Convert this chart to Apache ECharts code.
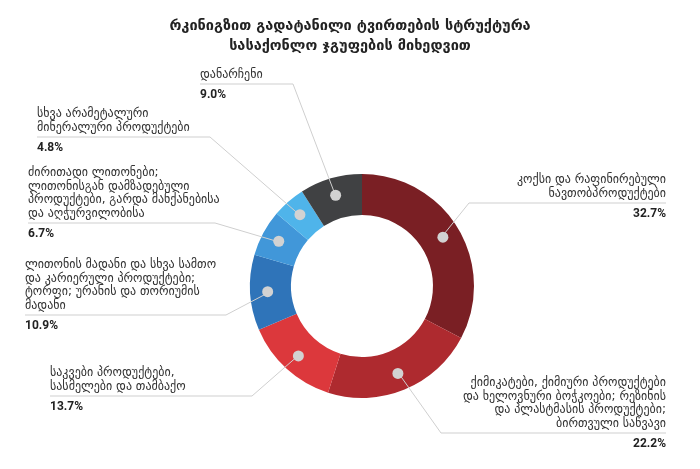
<!DOCTYPE html>
<html>
<head>
    <meta charset="UTF-8">
    <title></title>
    <style type="text/css">
        html, body { margin: 0; padding: 0; background: #fff; }
        #mychart { width: 700px; height: 469px; }
    </style>
</head>
<body>
<div id="mychart"></div>
<script src="https://cdn.jsdelivr.net/npm/echarts@6/dist/echarts.min.js"></script>
<script>
    var titleText = 'რკინიგზით გადატანილი ტვირთების სტრუქტურა\nსასაქონლო ჯგუფების მიხედვით';

    // clockwise from the top
    var groupNames = [
        'კოქსი და რაფინირებული\nნავთობპროდუქტები',
        'ქიმიკატები, ქიმიური პროდუქტები\nდა ხელოვნური ბოჭკოები; რეზინის\nდა პლასტმასის პროდუქტები;\nბირთვული საწვავი',
        'საკვები პროდუქტები,\nსასმელები და თამბაქო',
        'ლითონის მადანი და სხვა სამთო\nდა კარიერული პროდუქტები;\nტორფი; ურანის და თორიუმის\nმადანი',
        'ძირითადი ლითონები;\nლითონისგან დამზადებული\nპროდუქტები, გარდა მანქანებისა\nდა აღჭურვილობისა',
        'სხვა არამეტალური\nმინერალური პროდუქტები',
        'დანარჩენი'
    ];
    var shares = [32.7, 22.2, 13.7, 10.9, 6.7, 4.8, 9.0];
    var colors = ['#7a1f24', '#ae2a2f', '#dc383c', '#2f74b9', '#4197d9', '#4fb4ea', '#404143'];

    // label placement (pixels): underline y, bend x, text edge x
    var RIGHT_EDGE = 666;
    var labelPos = [
        {side: 'r', bx: 469, y: 203},
        {side: 'r', bx: 441, y: 433},
        {side: 'l', x: 50, bx: 252, y: 396},
        {side: 'l', x: 25, bx: 226, y: 315},
        {side: 'l', x: 28, bx: 215, y: 223},
        {side: 'l', x: 37, bx: 210, y: 137},
        {side: 'l', x: 200, bx: 293, y: 84}
    ];

    var CENTER = [362, 286];
    var R_IN = 71, R_OUT = 112, R_DOT = (R_IN + R_OUT) / 2;

    var pieData = [];
    for (var i = 0; i < shares.length; i++) {
        pieData.push({name: groupNames[i], value: shares[i], itemStyle: {color: colors[i]}});
    }
    var ghostData = [];
    for (i = 0; i < shares.length; i++) {
        ghostData.push({name: groupNames[i], value: shares[i]});
    }

    function edgeX(L) {
        return L.side == 'r' ? RIGHT_EDGE : L.x;
    }

    var myChart = echarts.init(document.getElementById('mychart'));

    var base = {
        type: 'pie',
        center: CENTER,
        startAngle: 90,
        clockwise: true,
        silent: true,
        avoidLabelOverlap: false,
        emphasis: {disabled: true},
        animation: false
    };

    var option = {
        animation: false,
        title: {
            text: titleText,
            left: 'center',
            top: 11,
            textStyle: {
                fontFamily: 'DejaVu Sans',
                fontSize: 14.5,
                fontWeight: 'bold',
                color: '#222',
                lineHeight: 20
            }
        },
        series: [
            // ring
            Object.assign({}, base, {
                z: 1,
                radius: [R_IN, R_OUT],
                data: pieData,
                label: {show: false},
                labelLine: {show: false}
            }),
            // leader lines + names
            Object.assign({}, base, {
                z: 2,
                radius: [R_IN, R_DOT],
                data: ghostData,
                itemStyle: {color: 'rgba(0,0,0,0)'},
                label: {
                    show: true,
                    position: 'outer',
                    width: 300,
                    overflow: 'none',
                    fontFamily: 'DejaVu Sans',
                    fontSize: 12,
                    lineHeight: 13.5,
                    color: '#333'
                },
                labelLine: {show: true, lineStyle: {color: '#cfcfcf', width: 1}},
                labelLayout: function (p) {
                    var L = labelPos[p.dataIndex];
                    var start = p.labelLinePoints ? p.labelLinePoints[0] : [L.bx, L.y];
                    return {
                        x: edgeX(L),
                        y: L.y - 2.5,
                        align: L.side == 'r' ? 'right' : 'left',
                        verticalAlign: 'bottom',
                        labelLinePoints: [start, [L.bx, L.y], [edgeX(L), L.y]]
                    };
                }
            }),
            // percentages
            Object.assign({}, base, {
                z: 2,
                radius: [R_IN, R_DOT],
                data: ghostData,
                itemStyle: {color: 'rgba(0,0,0,0)'},
                label: {
                    show: true,
                    position: 'outer',
                    width: 100,
                    overflow: 'none',
                    formatter: function (p) {
                        return p.value.toFixed(1) + '%';
                    },
                    fontFamily: 'Roboto',
                    fontSize: 12,
                    fontWeight: 'bold',
                    lineHeight: 14,
                    color: '#222'
                },
                labelLine: {show: false},
                labelLayout: function (p) {
                    var L = labelPos[p.dataIndex];
                    return {
                        x: edgeX(L),
                        y: L.y + 4,
                        align: L.side == 'r' ? 'right' : 'left',
                        verticalAlign: 'top'
                    };
                }
            }),
            // dots
            Object.assign({}, base, {
                z: 3,
                radius: [R_IN, R_OUT],
                data: ghostData,
                itemStyle: {color: 'rgba(0,0,0,0)'},
                label: {
                    show: true,
                    position: 'inside',
                    formatter: '{d| }',
                    rich: {
                        d: {width: 11, height: 11, borderRadius: 6, backgroundColor: '#d2d2d2'}
                    }
                },
                labelLine: {show: false}
            })
        ]
    };

    myChart.setOption(option);
</script>
</body>
</html>
